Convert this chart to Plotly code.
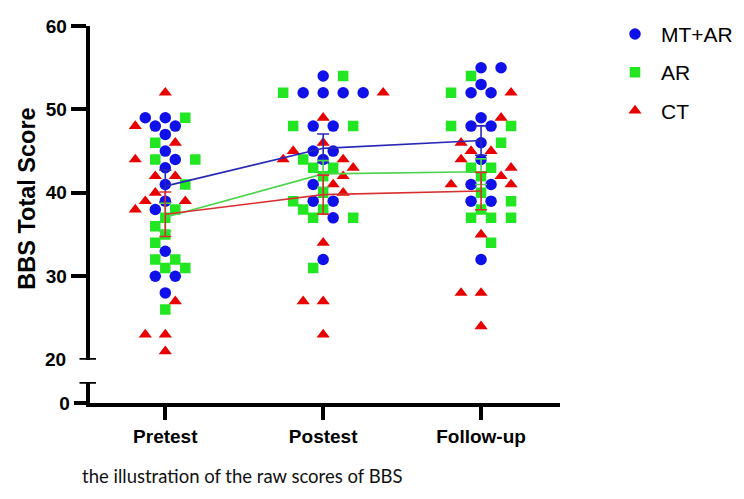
import numpy as np
import plotly.graph_objects as go

# ---------------- data ----------------
times = ["Pretest", "Postest", "Follow-up"]
groups = ["MT+AR", "AR", "CT"]

mt_ar = [
    [49, 49, 48, 48, 47, 45, 44, 43, 41, 39, 38, 33, 30, 30, 28],
    [54, 52, 52, 52, 52, 48, 48, 45, 45, 44, 41, 39, 39, 37, 32],
    [55, 55, 53, 52, 52, 49, 48, 48, 46, 44, 41, 41, 39, 39, 32],
]
ar = [
    [49, 46, 44, 44, 41, 38, 37, 36, 35, 34, 32, 32, 31, 31, 26],
    [54, 52, 48, 48, 44, 43, 43, 42, 40, 39, 38, 38, 37, 37, 31],
    [54, 52, 48, 48, 46, 43, 43, 42, 40, 39, 38, 37, 37, 37, 34],
]
ct = [
    [52, 48, 46, 44, 42, 42, 40, 39, 39, 38, 27, 23, 23, 21],
    [52, 49, 46, 45, 44, 44, 43, 42, 41, 40, 34, 27, 27, 23],
    [52, 49, 46, 45, 45, 44, 43, 42, 41, 41, 35, 28, 28, 24],
]
y_ticks = [30, 40, 50, 60]
caption = "the illustration of the raw scores of BBS"

# ---------------- styling ----------------
W, H = 744, 499
marker_cols = ["#1010e8", "#22e622", "#e80000"]
line_cols = ["#2828b8", "#4cd44c", "#d83030"]
symbols = ["circle", "square", "triangle-up"]
sizes = [11.5, 10.5, 11.5]

X_RANGE = [-0.48, 2.5]
X_DOM = [89.5 / W, 560 / W]
px_per_unit = (X_DOM[1] - X_DOM[0]) * W / (X_RANGE[1] - X_RANGE[0])
STEP = 10 / px_per_unit  # half-column step of the swarm


def py(pix):
    return 1 - pix / H


def swarm(vals_by_group, step):
    items = [(v, g, i) for g, vals in enumerate(vals_by_group) for i, v in enumerate(vals)]
    items.sort(key=lambda t: (-t[0], t[1]))
    placed = []
    offs = [[0.0] * len(v) for v in vals_by_group]
    flip = 1
    for v, g, i in items:
        chosen = None
        for m in range(0, 40):
            cands = [0] if m == 0 else [-m * flip, m * flip]
            for k in cands:
                ok = True
                for pv, pk in placed:
                    if pv == v and abs(pk - k) < 2:
                        ok = False
                        break
                    if abs(pv - v) == 1 and pk == k:
                        ok = False
                        break
                if ok:
                    chosen = k
                    break
            if chosen is not None:
                break
        placed.append((v, chosen))
        offs[g][i] = chosen * step
        flip = -flip
    return offs


data = [mt_ar, ar, ct]
xs = [[] for _ in groups]
ys = [[] for _ in groups]
for t in range(len(times)):
    offs = swarm([data[g][t] for g in range(len(groups))], STEP)
    for g in range(len(groups)):
        xs[g].extend([t + o for o in offs[g]])
        ys[g].extend(data[g][t])

fig = go.Figure()
for g, name in enumerate(groups):
    fig.add_trace(go.Scatter(
        x=xs[g], y=ys[g], mode="markers", name=name,
        marker=dict(symbol=symbols[g], size=sizes[g], color=marker_cols[g], line=dict(width=0)),
        legendgroup=name,
    ))

for g, name in enumerate(groups):
    means = [float(np.mean(data[g][t])) for t in range(len(times))]
    sems = [float(np.std(data[g][t], ddof=1) / np.sqrt(len(data[g][t]))) for t in range(len(times))]
    fig.add_trace(go.Scatter(
        x=list(range(len(times))), y=means, mode="lines", showlegend=False,
        line=dict(color=line_cols[g], width=1.6),
        error_y=dict(type="data", array=sems, visible=True, color=line_cols[g], thickness=1.6, width=6),
    ))

axis_font = dict(family="Liberation Sans, Arial", size=19, color="black", weight="bold")
LW = 3.5

fig.update_layout(
    width=W, height=H,
    margin=dict(l=0, r=0, t=0, b=0),
    paper_bgcolor="white", plot_bgcolor="white",
    showlegend=True,
    legend=dict(x=609 / W, y=py(4), xanchor="left", yanchor="top",
                font=dict(family="Liberation Sans, Arial", size=21, color="black"),
                tracegroupgap=8, bgcolor="rgba(0,0,0,0)", itemsizing="trace", itemwidth=42),
    xaxis=dict(domain=X_DOM, range=X_RANGE, anchor="y2",
               tickmode="array", tickvals=list(range(len(times))), ticktext=times,
               showline=True, linewidth=LW, linecolor="black",
               ticks="outside", ticklen=13, tickwidth=LW, tickcolor="black",
               tickfont=axis_font, showgrid=False, zeroline=False),
    yaxis=dict(domain=[py(365), py(16.7)], range=[20, 60], anchor="x",
               tickmode="array", tickvals=y_ticks,
               showline=True, linewidth=LW, linecolor="black",
               ticks="outside", ticklen=15, tickwidth=LW, tickcolor="black",
               tickfont=axis_font, showgrid=False, zeroline=False),
    yaxis2=dict(domain=[py(410.7), py(388.3)], range=[0, 2.6], anchor="x",
                tickmode="array", tickvals=[0],
                showline=True, linewidth=LW, linecolor="black",
                ticks="outside", ticklen=12, tickwidth=LW, tickcolor="black",
                tickfont=axis_font, showgrid=False, zeroline=False),
)

# axis break caps
for yref, yv in (("y", 20), ("y2", 2.6)):
    fig.add_shape(type="line", xref="paper", yref=yref,
                  x0=79.5 / W, x1=96 / W, y0=yv, y1=yv,
                  line=dict(color="black", width=LW))

fig.add_annotation(text="20", xref="paper", yref="y", x=67.5 / W, y=20,
                   xanchor="right", yanchor="middle", showarrow=False, font=axis_font)
fig.add_annotation(text="BBS Total Score", xref="paper", yref="paper",
                   x=27 / W, y=py(197), textangle=-90, showarrow=False,
                   xanchor="center", yanchor="middle",
                   font=dict(family="Liberation Sans, Arial", size=23.5, color="black", weight="bold"))
fig.add_annotation(text=caption, xref="paper", yref="paper",
                   x=80 / W, y=py(486), xanchor="left", yanchor="middle", showarrow=False,
                   font=dict(family="Lato", size=18.5, color="#111111"))

fig.write_html("out.html")
